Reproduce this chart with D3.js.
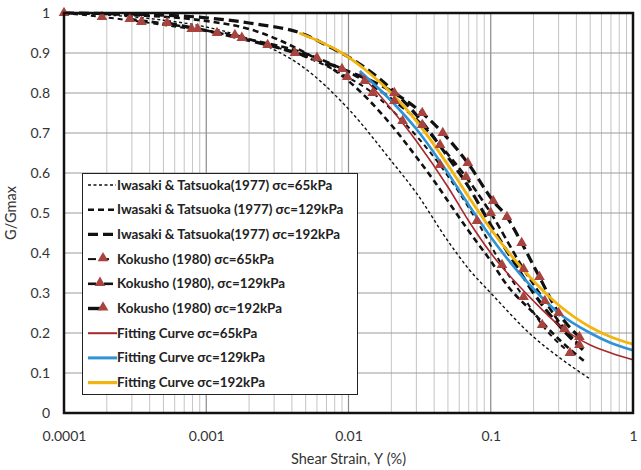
<!DOCTYPE html>
<html>
<head>
<meta charset="utf-8">
<script src="https://cdn.jsdelivr.net/npm/d3@7"></script>
<style>
  html, body { margin: 0; padding: 0; background: #fff; }
  svg { display: block; }
</style>
</head>
<body>
<svg id="chart" width="641" height="470"></svg>
<script>
// Axis ticks
const xTickValues = [0.0001, 0.001, 0.01, 0.1, 1];
const xTickLabels = ["0.0001", "0.001", "0.01", "0.1", "1"];
const yTickValues = [0, 0.1, 0.2, 0.3, 0.4, 0.5, 0.6, 0.7, 0.8, 0.9, 1];
const yTickLabels = ["0", "0.1", "0.2", "0.3", "0.4", "0.5", "0.6", "0.7", "0.8", "0.9", "1"];

// Series: [shear strain (%), G/Gmax]
const iwasaki65 = [[0.0001,1.0],[0.0002,0.995],[0.0005,0.982],[0.001,0.965],[0.002,0.935],[0.005,0.86],[0.01,0.76],[0.02,0.63],[0.03,0.55],[0.05,0.43],[0.07,0.36],[0.1,0.30],[0.2,0.19],[0.3,0.14],[0.5,0.085]];
const iwasaki129 = [[0.0001,1.0],[0.0003,0.995],[0.001,0.98],[0.002,0.96],[0.005,0.9],[0.0074,0.865],[0.01,0.83],[0.02,0.72],[0.03,0.64],[0.04,0.58],[0.05,0.53],[0.07,0.455],[0.1,0.38],[0.13,0.32],[0.2,0.25],[0.3,0.185],[0.47,0.125]];
const iwasaki192 = [[0.0001,1.0],[0.0003,0.997],[0.001,0.988],[0.002,0.975],[0.005,0.945],[0.0074,0.915],[0.01,0.89],[0.02,0.81],[0.03,0.745],[0.05,0.64],[0.07,0.565],[0.1,0.47],[0.15,0.37],[0.2,0.30],[0.3,0.22],[0.47,0.15]];
const kokusho65 = [[0.0001,1.0],[0.000185,0.99],[0.00035,0.978],[0.00079,0.96],[0.00159,0.945],[0.0027,0.92],[0.0042,0.9],[0.0098,0.84],[0.0148,0.80],[0.024,0.73],[0.044,0.62],[0.08,0.48],[0.12,0.37],[0.17,0.29],[0.23,0.22],[0.36,0.15]];
const kokusho129 = [[0.00029,0.985],[0.00087,0.96],[0.00178,0.938],[0.006,0.888],[0.013,0.83],[0.021,0.78],[0.033,0.72],[0.044,0.67],[0.067,0.59],[0.1,0.50],[0.17,0.36],[0.24,0.28],[0.33,0.21],[0.42,0.17]];
const kokusho192 = [[0.00053,0.975],[0.00119,0.95],[0.009,0.86],[0.021,0.80],[0.033,0.75],[0.046,0.70],[0.069,0.625],[0.104,0.53],[0.13,0.49],[0.165,0.425],[0.22,0.34],[0.3,0.25],[0.42,0.19]];
const fitting65 = [[0.012,0.85],[0.02,0.76],[0.03,0.68],[0.05,0.565],[0.07,0.48],[0.1,0.40],[0.2,0.28],[0.3,0.22],[0.5,0.17],[0.7,0.15],[1,0.133]];
const fitting129 = [[0.012,0.855],[0.02,0.78],[0.03,0.71],[0.05,0.60],[0.07,0.52],[0.1,0.44],[0.2,0.31],[0.3,0.25],[0.5,0.2],[0.7,0.175],[1,0.157]];
const fitting192 = [[0.0045,0.95],[0.009,0.90],[0.014,0.85],[0.02,0.80],[0.03,0.73],[0.05,0.62],[0.07,0.54],[0.1,0.46],[0.2,0.33],[0.3,0.27],[0.5,0.215],[0.7,0.19],[1,0.172]];

const seriesNames = [
  "Iwasaki & Tatsuoka(1977) σc=65kPa",
  "Iwasaki & Tatsuoka (1977) σc=129kPa",
  "Iwasaki & Tatsuoka(1977) σc=192kPa",
  "Kokusho (1980) σc=65kPa",
  "Kokusho (1980), σc=129kPa",
  "Kokusho (1980) σc=192kPa",
  "Fitting Curve σc=65kPa",
  "Fitting Curve σc=129kPa",
  "Fitting Curve σc=192kPa"
];

const markerColor = "#a8443f";
const styles = [
  {data: iwasaki65,  color: "#111", width: 1.4, dash: "3,2.5", marker: false},
  {data: iwasaki129, color: "#111", width: 2.6, dash: "6,4",   marker: false},
  {data: iwasaki192, color: "#111", width: 3.2, dash: "10,5",  marker: false},
  {data: kokusho65,  color: "#111", width: 2.0, dash: "5,4",   marker: true},
  {data: kokusho129, color: "#111", width: 2.6, dash: "7,4",   marker: true},
  {data: kokusho192, color: "#111", width: 3.2, dash: "10,5",  marker: true},
  {data: fitting65,  color: "#a8272a", width: 1.6, dash: null, marker: false},
  {data: fitting129, color: "#2f93d6", width: 2.6, dash: null, marker: false},
  {data: fitting192, color: "#f2b50f", width: 2.8, dash: null, marker: false}
];

const svg = d3.select("#chart");
const plotLeft = 64, plotRight = 633, plotTop = 13, plotBottom = 413;

const x = d3.scaleLog().domain([0.0001, 1]).range([plotLeft, plotRight]);
const y = d3.scaleLinear().domain([0, 1]).range([plotBottom, plotTop]);

// grid: minor log lines
const minor = [];
for (let e = -4; e < 0; e++) for (let m = 2; m <= 9; m++) minor.push(m * Math.pow(10, e));
svg.append("g").selectAll("line").data(minor).join("line")
  .attr("x1", d => x(d)).attr("x2", d => x(d))
  .attr("y1", plotTop).attr("y2", plotBottom)
  .attr("stroke", "#c4c4c4").attr("stroke-width", 1);
svg.append("g").selectAll("line").data(xTickValues).join("line")
  .attr("x1", d => x(d)).attr("x2", d => x(d))
  .attr("y1", plotTop).attr("y2", plotBottom)
  .attr("stroke", "#8a8a8a").attr("stroke-width", 1.2);
svg.append("g").selectAll("line").data(yTickValues).join("line")
  .attr("x1", plotLeft).attr("x2", plotRight)
  .attr("y1", d => y(d)).attr("y2", d => y(d))
  .attr("stroke", "#9a9a9a").attr("stroke-width", 1);

// axes (labels only, frame drawn separately)
const xAxis = d3.axisBottom(x).tickValues(xTickValues)
  .tickFormat((d, i) => xTickLabels[i]).tickSize(0).tickPadding(18);
const gx = svg.append("g").attr("transform", `translate(0,${plotBottom})`).call(xAxis);
gx.select(".domain").remove();
gx.selectAll("text").attr("font-family", "Lato, 'Open Sans', sans-serif")
  .attr("font-size", 14).attr("fill", "#333");

const yAxis = d3.axisLeft(y).tickValues(yTickValues)
  .tickFormat((d, i) => yTickLabels[i]).tickSize(0).tickPadding(14);
const gy = svg.append("g").attr("transform", `translate(${plotLeft},0)`).call(yAxis);
gy.select(".domain").remove();
gy.selectAll("text").attr("font-family", "Lato, 'Open Sans', sans-serif")
  .attr("font-size", 14).attr("fill", "#333");

// series
const line = d3.line().x(d => x(d[0])).y(d => y(d[1])).curve(d3.curveMonotoneX);
const tri = d3.symbol().type(d3.symbolTriangle).size(50);

styles.forEach(s => {
  svg.append("path").datum(s.data)
    .attr("d", line).attr("fill", "none")
    .attr("stroke", s.color).attr("stroke-width", s.width)
    .attr("stroke-dasharray", s.dash);
});
styles.forEach(s => {
  if (!s.marker) return;
  svg.append("g").selectAll("path").data(s.data).join("path")
    .attr("d", tri)
    .attr("transform", d => `translate(${x(d[0])},${y(d[1])})`)
    .attr("fill", markerColor);
});

// frame
svg.append("rect").attr("x", plotLeft).attr("y", plotTop)
  .attr("width", plotRight - plotLeft).attr("height", plotBottom - plotTop)
  .attr("fill", "none").attr("stroke", "#111").attr("stroke-width", 2.5);

// axis titles
svg.append("text").attr("x", (plotLeft + plotRight) / 2).attr("y", 464)
  .attr("text-anchor", "middle")
  .attr("font-family", "Lato, 'Open Sans', sans-serif").attr("font-size", 14.5).attr("fill", "#333")
  .text("Shear Strain, Υ (%)");
svg.append("text").attr("transform", "translate(16,213) rotate(-90)")
  .attr("text-anchor", "middle")
  .attr("font-family", "Lato, 'Open Sans', sans-serif").attr("font-size", 14.5).attr("fill", "#333")
  .text("G/Gmax");

// legend
const lg = svg.append("g");
lg.append("rect").attr("x", 82.5).attr("y", 173.5).attr("width", 275).attr("height", 221)
  .attr("fill", "#fff").attr("stroke", "#222").attr("stroke-width", 1);
const rowY = i => 185 + i * 24.7;
styles.forEach((s, i) => {
  const yy = rowY(i);
  const g = lg.append("g");
  if (i < 3) {
    g.append("line").attr("x1", 88).attr("x2", 116).attr("y1", yy).attr("y2", yy)
      .attr("stroke", s.color).attr("stroke-width", s.width).attr("stroke-dasharray", s.dash);
  } else if (i === 3) {
    g.append("line").attr("x1", 88).attr("x2", 96).attr("y1", yy).attr("y2", yy)
      .attr("stroke", "#111").attr("stroke-width", 2);
    g.append("line").attr("x1", 101).attr("x2", 109).attr("y1", yy).attr("y2", yy)
      .attr("stroke", "#111").attr("stroke-width", 2);
    g.append("path").attr("d", tri).attr("transform", `translate(103,${yy - 1})`).attr("fill", markerColor);
  } else if (i === 4) {
    g.append("line").attr("x1", 88).attr("x2", 96).attr("y1", yy).attr("y2", yy)
      .attr("stroke", "#111").attr("stroke-width", 2.6);
    g.append("line").attr("x1", 104).attr("x2", 113).attr("y1", yy).attr("y2", yy)
      .attr("stroke", "#111").attr("stroke-width", 2.6);
    g.append("path").attr("d", tri).attr("transform", `translate(100,${yy - 1})`).attr("fill", markerColor);
  } else if (i === 5) {
    g.append("line").attr("x1", 88).attr("x2", 101).attr("y1", yy).attr("y2", yy)
      .attr("stroke", "#111").attr("stroke-width", 3.4);
    g.append("path").attr("d", tri).attr("transform", `translate(103,${yy - 1})`).attr("fill", markerColor);
  } else {
    g.append("line").attr("x1", 88).attr("x2", 117).attr("y1", yy).attr("y2", yy)
      .attr("stroke", s.color).attr("stroke-width", s.width + 0.4);
  }
  g.append("text").attr("x", 117).attr("y", yy + 4.5)
    .attr("font-family", "Lato, 'Open Sans', sans-serif").attr("font-weight", "bold")
    .attr("font-size", 13.4).attr("fill", "#222")
    .text(seriesNames[i]);
});
</script>
</body>
</html>
